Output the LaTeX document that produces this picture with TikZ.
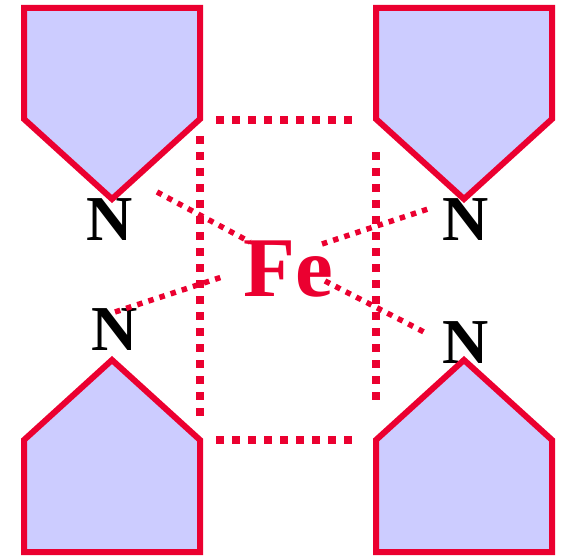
\documentclass[tikz,border=0pt]{standalone}
\usepackage{fontspec}
\setmainfont{Liberation Serif}
\usepackage{xcolor}
\definecolor{ferrored}{RGB}{235,0,48}
\definecolor{pentblue}{RGB}{204,204,255}
\tikzset{
    ringbox/.style={draw=ferrored, fill=pentblue, line width=6pt, line join=miter},
    bonddot/.style={draw=ferrored, line width=5.5pt, dash pattern=on 5.5pt off 6.2pt},
    squaredot/.style={draw=ferrored, line width=8pt, dash pattern=on 8pt off 8pt},
    nitrogen/.style={font=\bfseries\fontsize{64}{64}\selectfont, text=black, inner sep=0pt},
}
\begin{document}
\begin{tikzpicture}[x=1pt, y=-1pt]
    \useasboundingbox (0,0) rectangle (562,556);
    % atoms
    \node[nitrogen] (ntl) at (109.5,220) {N};
    \node[nitrogen] (ntr) at (466,220) {N};
    \node[nitrogen] (nbl) at (114.5,330) {N};
    \node[nitrogen] (nbr) at (466,343) {N};
    \node[font=\bfseries\fontsize{85}{85}\selectfont, text=ferrored, inner sep=0pt] (fe) at (288,269) {Fe};
    % rings
    \draw[ringbox] (24,8) -- (200,8) -- (200,119) -- (112,199) -- (24,119) -- cycle;
    \draw[ringbox] (376,8) -- (552,8) -- (552,119) -- (464,199) -- (376,119) -- cycle;
    \draw[ringbox] (24,552) -- (200,552) -- (200,440) -- (112,360) -- (24,440) -- cycle;
    \draw[ringbox] (376,552) -- (552,552) -- (552,440) -- (464,360) -- (376,440) -- cycle;
    % bonds
    \coordinate (atl) at (157,192);
    \coordinate (atr) at (428,209);
    \coordinate (abl) at (115,312);
    \coordinate (abr) at (424,332);
    \coordinate (ftl) at (250,242);
    \coordinate (ftr) at (322,244);
    \coordinate (fbl) at (222,277);
    \coordinate (fbr) at (325,281);
    \draw[bonddot] (atl) -- (ftl);
    \draw[bonddot] (ftr) -- (atr);
    \draw[bonddot] (abl) -- (fbl);
    \draw[bonddot] (fbr) -- (abr);
    % square
    \coordinate (st1) at (216,120);
    \coordinate (st2) at (352,120);
    \coordinate (sb1) at (216,440);
    \coordinate (sb2) at (352,440);
    \coordinate (sl1) at (200,136);
    \coordinate (sl2) at (200,416);
    \coordinate (sr1) at (376,152);
    \coordinate (sr2) at (376,400);
    \draw[squaredot] (st1) -- (st2);
    \draw[squaredot] (sb1) -- (sb2);
    \draw[squaredot] (sl1) -- (sl2);
    \draw[squaredot] (sr1) -- (sr2);
\end{tikzpicture}
\end{document}
